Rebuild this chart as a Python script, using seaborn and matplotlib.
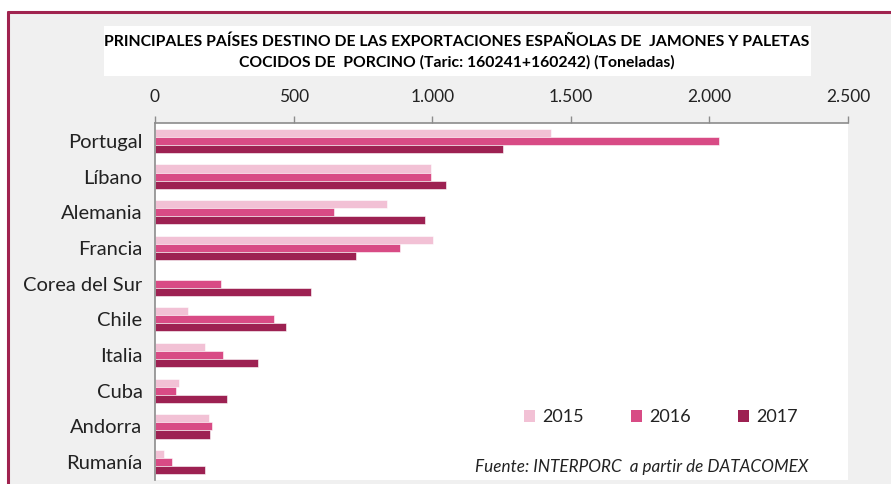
import matplotlib
matplotlib.use("Agg")
import matplotlib.pyplot as plt
from matplotlib.patches import Rectangle
from matplotlib.lines import Line2D
import seaborn as sns
import pandas as pd

paises = ["Portugal", "Líbano", "Alemania", "Francia", "Corea del Sur",
          "Chile", "Italia", "Cuba", "Andorra", "Rumanía"]
anios = ["2015", "2016", "2017"]
t2015 = [1430, 995, 837, 1002, 0, 118, 181, 86, 196, 31]
t2016 = [2034, 994, 644, 884, 238, 428, 247, 74, 204, 63]
t2017 = [1257, 1049, 974, 726, 562, 471, 370, 259, 200, 181]
ticks = [0, 500, 1000, 1500, 2000, 2500]
tick_labels = ["0", "500", "1.000", "1.500", "2.000", "2.500"]
colores = ["#f2c1d5", "#d84b85", "#9d2152"]

df = pd.DataFrame({
    "pais": paises * 3,
    "anio": [a for a in anios for _ in paises],
    "toneladas": t2015 + t2016 + t2017,
})

sns.set_theme(style="white")
plt.rcParams["font.family"] = ["Lato", "DejaVu Sans"]

W, H = 891, 484
fig = plt.figure(figsize=(W / 100, H / 100), dpi=100)
fig.patch.set_facecolor("white")

# panel background and maroon frame
fig.add_artist(Rectangle((8 / W, 0), 1 - 8 / W, 1 - 12 / H, transform=fig.transFigure,
                         facecolor="#f0f0f0", edgecolor="none", zorder=0))
fig.add_artist(Line2D([8 / W, 1], [1 - 12 / H, 1 - 12 / H], transform=fig.transFigure,
                      color="#a0234f", lw=2.2, zorder=1))
fig.add_artist(Line2D([8 / W, 8 / W], [0, 1 - 12 / H], transform=fig.transFigure,
                      color="#a0234f", lw=2.2, zorder=1))
# title box
fig.add_artist(Rectangle((104 / W, 1 - 76 / H), (811 - 104) / W, 50 / H,
                         transform=fig.transFigure, facecolor="white",
                         edgecolor="none", zorder=1))
fig.text(457 / W, 1 - 42 / H,
         "PRINCIPALES PAÍSES DESTINO DE LAS EXPORTACIONES ESPAÑOLAS DE  JAMONES Y PALETAS",
         ha="center", va="center", fontsize=11.3, fontweight="bold", color="black", zorder=2)
fig.text(457 / W, 1 - 62 / H,
         "COCIDOS DE  PORCINO (Taric: 160241+160242) (Toneladas)",
         ha="center", va="center", fontsize=11.3, fontweight="bold", color="black", zorder=2)

ax = fig.add_axes([155 / W, 4 / H, (848 - 155) / W, (480 - 123) / H])
ax.set_facecolor("white")
sns.barplot(data=df, y="pais", x="toneladas", hue="anio", orient="h",
            palette=colores, width=0.68, ax=ax, edgecolor="white", linewidth=0.4,
            saturation=1)

ax.set_xlim(0, 2500)
ax.set_ylim(len(paises) - 0.5, -0.5)
ax.xaxis.tick_top()
ax.set_xticks(ticks)
ax.set_xticklabels(tick_labels)
ax.tick_params(axis="x", which="both", top=True, bottom=False, direction="out",
               length=5, width=1, color="#8c8c8c", pad=8, labelsize=12.5,
               labelcolor="#222222")
ax.tick_params(axis="y", length=0, pad=9, labelsize=14.5, labelcolor="#222222")
ax.set_xlabel("")
ax.set_ylabel("")
for side in ["right", "bottom"]:
    ax.spines[side].set_visible(False)
for side in ["top", "left"]:
    ax.spines[side].set_visible(True)
    ax.spines[side].set_color("#8c8c8c")
    ax.spines[side].set_linewidth(1.2)

leg = ax.legend(loc="center", bbox_to_anchor=(0.73, 0.176), ncol=3, frameon=False,
                fontsize=13, handlelength=0.6, handleheight=0.6, handletextpad=0.4,
                columnspacing=2.6, labelcolor="#222222")
for h in leg.legend_handles:
    h.set_edgecolor("none")

ax.text(0.942, 0.037, "Fuente: INTERPORC  a partir de DATACOMEX", transform=ax.transAxes,
        ha="right", va="center", fontsize=12.3, style="italic", color="#222222")

fig.savefig("out.png", dpi=100)
